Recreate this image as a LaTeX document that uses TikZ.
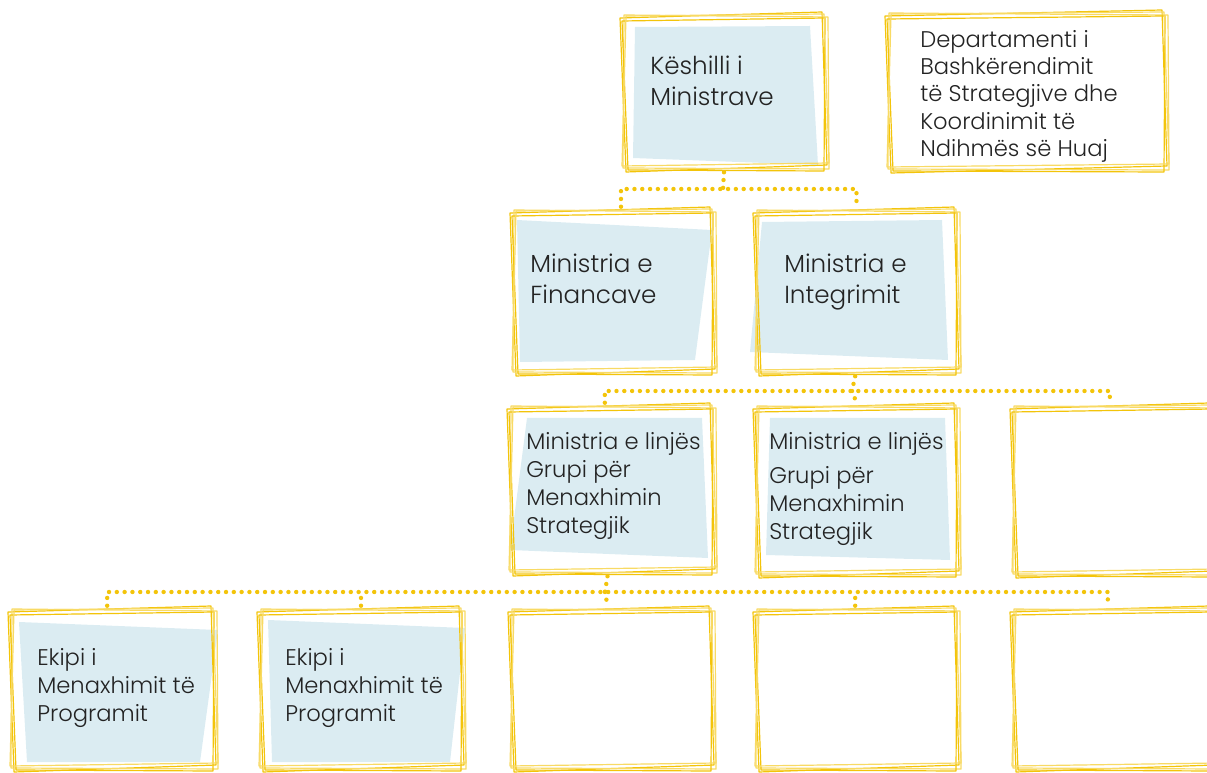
\documentclass[tikz,border=0pt]{standalone}
\usepackage{fontspec}
\setmainfont{Poppins Light}
\usetikzlibrary{fit}
\definecolor{ylw}{RGB}{243,196,10}
\definecolor{ylwl}{RGB}{248,218,100}
\definecolor{lblue}{RGB}{219,236,242}
\definecolor{txt}{RGB}{35,35,35}
\tikzset{
  skA/.style={draw=ylw,line width=0.9pt,line join=round},
  skB/.style={draw=ylwl,line width=0.9pt,line join=round},
  conn/.style={draw=ylw,line width=3.3pt,line cap=round,dash pattern=on 0pt off 5.85pt},
  bigtxt/.style={anchor=north west,inner sep=0pt,align=left,text=txt,font=\fontsize{18.5}{23.25}\selectfont},
  smalltxt/.style={anchor=north west,inner sep=0pt,align=left,text=txt,font=\fontsize{17}{21}\selectfont},
  deptxt/.style={anchor=north west,inner sep=0pt,align=left,text=txt,font=\fontsize{17}{20.5}\selectfont},
  fillq/.style={fill=lblue,draw=none}
}
\newcommand\skbox[5]{%
 \draw[skA] ({#2},{#3+6}) -- ({#4-6},{#3}) -- ({#4-1},{#5-7}) -- ({#2+6},{#5}) -- cycle;
 \draw[skB] ({#2+4},{#3+3}) -- ({#4},{#3+5}) -- ({#4+1},{#5-3}) -- ({#2+3},{#5-4}) -- cycle;
 \draw[skA] ({#2+2},{#3+9}) -- ({#4-3},{#3+6}) -- ({#4-4},{#5-1}) -- ({#2+8},{#5-2}) -- cycle;
 \draw[skB] ({#2+6},{#3+4}) -- ({#4-4},{#3+2}) -- ({#4+1},{#5-9}) -- ({#2+2},{#5-6}) -- cycle;
 \node[fit={(#2,#3)(#4,#5)},inner sep=0pt] (#1) {};
}
\begin{document}
\begin{tikzpicture}[x=0.75pt,y=-0.75pt]
\useasboundingbox (0,0) rectangle (1207,773);
\clip (0,0) rectangle (1207,773);
% fills
\fill[fillq] (635,27) -- (810,26) -- (818,165) -- (633,158) -- cycle;
\fill[fillq] (517,220) -- (712,230) -- (695,360) -- (520,362) -- cycle;
\fill[fillq] (762,222) -- (942,220) -- (948,360) -- (750,352) -- cycle;
\fill[fillq] (527,418) -- (702,418) -- (708,558) -- (510,550) -- cycle;
\fill[fillq] (770,418) -- (945,418) -- (950,560) -- (766,555) -- cycle;
\fill[fillq] (19,622) -- (218,630) -- (200,762) -- (27,762) -- cycle;
\fill[fillq] (268,620) -- (465,628) -- (450,762) -- (272,762) -- cycle;
% boxes
\skbox{ks}{620}{12}{828}{172}
\skbox{dep}{885}{10}{1168}{173}
\skbox{mf}{510}{207}{716}{376}
\skbox{mi}{753}{207}{960}{376}
\skbox{ml}{507}{403}{716}{576}
\skbox{ml2}{753}{403}{960}{578}
\skbox{e3}{1010}{403}{1215}{578}
\skbox{p1}{8}{606}{217}{772}
\skbox{p2}{257}{606}{465}{772}
\skbox{p3}{508}{606}{715}{772}
\skbox{p4}{753}{606}{960}{772}
\skbox{p5}{1010}{606}{1215}{772}
% texts
\node[bigtxt] (tks) at (650,56) {Këshilli i\\Ministrave};
\node[deptxt] (tdep) at (920,30) {Departamenti i\\Bashkërendimit\\të Strategjive dhe\\Koordinimit të\\Ndihmës së Huaj};
\node[bigtxt] (tmf) at (530,254) {Ministria e\\Financave};
\node[bigtxt] (tmi) at (784,254) {Ministria e\\Integrimit};
\node[smalltxt] (tml) at (526,432) {Ministria e linjës\\Grupi për\\Menaxhimin\\Strategjik};
\node[smalltxt] (tml2) at (769,432) {Ministria e linjës\\[5pt]Grupi për\\Menaxhimin\\Strategjik};
\node[smalltxt] (tp1) at (37,648) {Ekipi i\\Menaxhimit të\\Programit};
\node[smalltxt] (tp2) at (285,648) {Ekipi i\\Menaxhimit të\\Programit};
% connectors
\coordinate (b1) at (723,189);
\coordinate (b2) at (852,391);
\coordinate (b3) at (605,592);
\draw[conn] (ks.south) -- (b1);
\draw[conn] ([xshift=6pt]mf.north) |- (b1) -| (mi.north);
\draw[conn] ([xshift=-1pt]mi.south) -- (b2);
\draw[conn] ([xshift=-5pt]ml.north) |- (b2) -| ([xshift=-2pt]e3.north);
\draw[conn] (b2) -- (ml2.north);
\draw[conn] ([xshift=-3pt]ml.south) -- (b3);
\draw[conn] ([xshift=-4pt]p1.north) |- (b3) -| ([xshift=-3.5pt]p5.north);
\draw[conn] (b3) -- ([xshift=-3pt]p3.north);
\draw[conn] (p2.north) -- (p2.north |- b3);
\draw[conn] ([xshift=-1pt]p4.north) -- ([xshift=-1pt]p4.north |- b3);
\end{tikzpicture}
\end{document}
